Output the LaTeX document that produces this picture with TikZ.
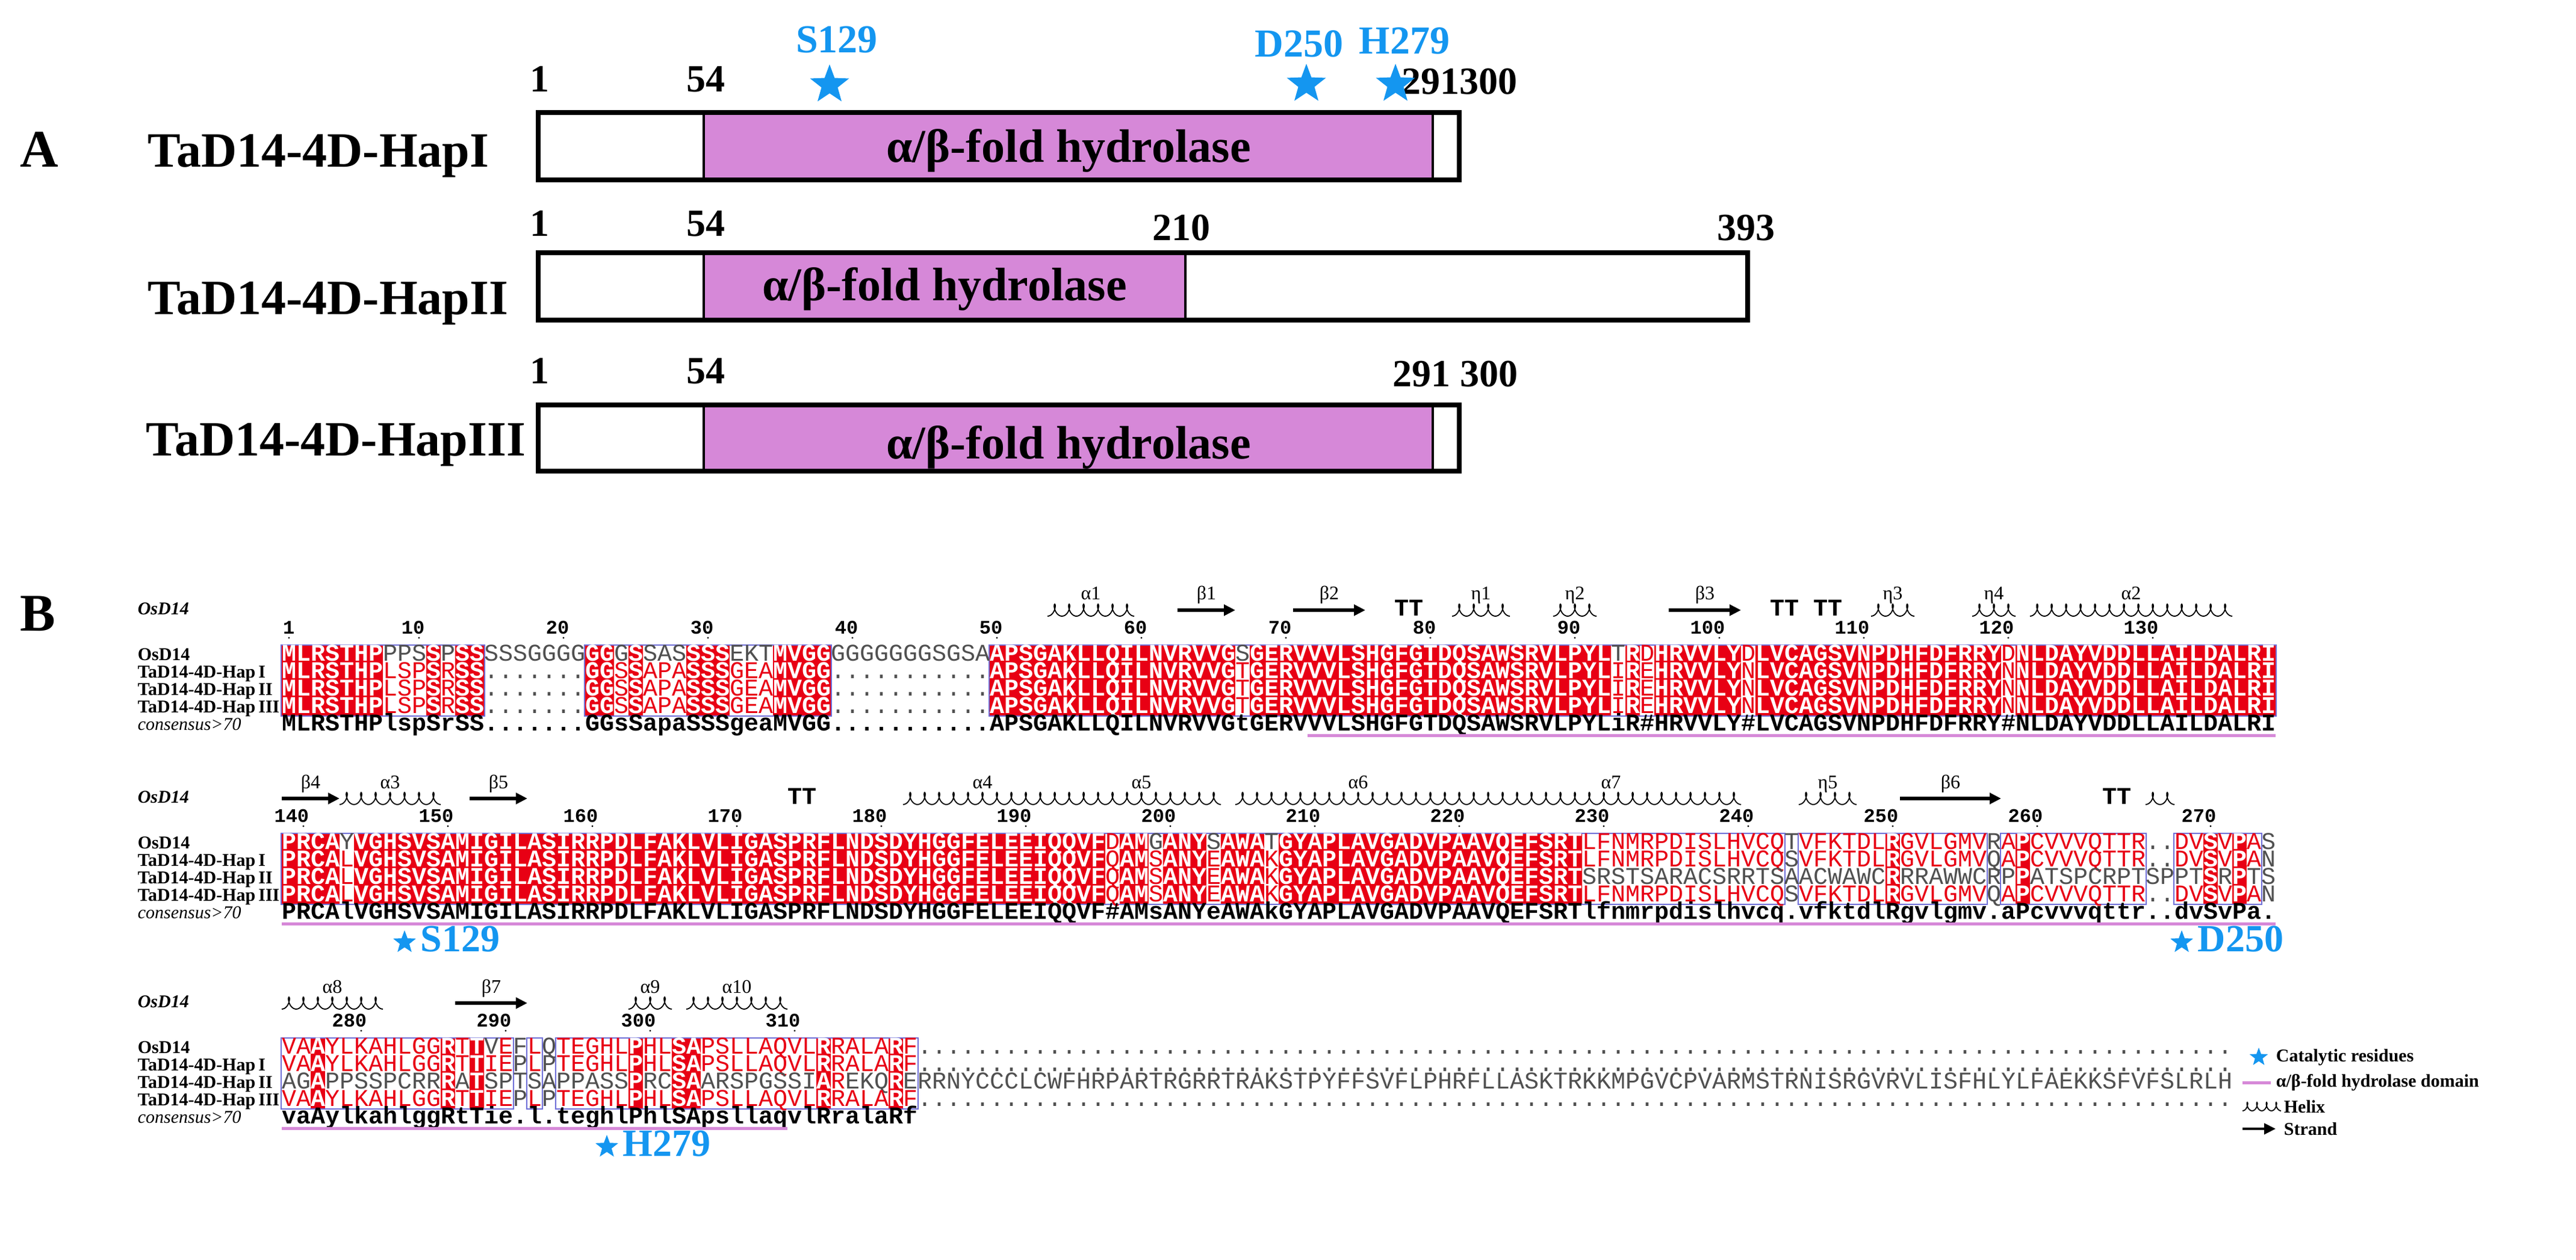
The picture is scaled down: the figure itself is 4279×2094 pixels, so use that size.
\documentclass[tikz,border=0pt]{standalone}
\usepackage{fontspec}
\setmainfont{Liberation Serif}
\setmonofont{Liberation Mono}
\usetikzlibrary{arrows.meta,shapes.geometric}
\definecolor{espred}{RGB}{232,0,20}
\definecolor{espframe}{RGB}{110,110,215}
\definecolor{seqgray}{RGB}{80,80,80}
\definecolor{consblack}{RGB}{0,0,0}
\definecolor{domainpink}{RGB}{214,136,216}
\definecolor{catblue}{RGB}{20,150,240}

\newcommand\rsch[3]{\makebox[6pt][c]{\textcolor{#1}{#2#3}}}

\ExplSyntaxOn
\int_new:N \l_rs_i_int
\int_new:N \l_rs_rs_int
\int_new:N \l_rs_fs_int
\int_new:N \l_rs_cls_int
\str_new:N \l_rs_c_str
\tl_new:N \l_rs_col_tl
\tl_new:N \l_rs_font_tl
\tl_new:N \l_rs_ch_tl
\tl_new:N \g_rs_row_tl

\cs_new_protected:Npn \rs_class:n #1
 {
  \int_set:Nn \l_rs_cls_int {0}
  \str_if_eq:nnF {#1} {.}
   {
    \tl_if_blank:nF {#1}
     {
      \int_set:Nn \l_rs_cls_int {1}
      \str_if_eq:nnF {#1} {!}
       {
        \str_if_eq:eeT { \str_uppercase:n {#1} } { #1 }
         { \int_set:Nn \l_rs_cls_int {2} }
       }
     }
   }
 }
\cs_generate_variant:Nn \rs_class:n {V}

\cs_new_protected:Npn \rs_row:nnn #1#2#3
 {
  \tl_gclear:N \g_rs_row_tl
  \int_zero:N \l_rs_i_int
  \str_map_inline:nn {#1}
   {
    \int_incr:N \l_rs_i_int
    \str_set:Nx \l_rs_c_str { \str_item:nn {#2} { \l_rs_i_int } }
    \str_if_eq:nnTF {##1} {!}
     { \tl_set:Nn \l_rs_ch_tl { \# } }
     { \tl_set:Nn \l_rs_ch_tl {##1} }
    \int_compare:nNnTF {#3} = {1}
     {
      \tl_set:Nn \l_rs_col_tl {consblack}
      \tl_set:Nn \l_rs_font_tl { \bfseries }
     }
     {
      \rs_class:V \l_rs_c_str
      \tl_set:Nn \l_rs_font_tl { }
      \int_case:nn { \l_rs_cls_int }
       {
        {0} { \tl_set:Nn \l_rs_col_tl {seqgray} }
        {1}
         {
          \tl_set:Nn \l_rs_col_tl {seqgray}
          \str_if_eq:VnTF \l_rs_c_str {!}
           { \tl_set:Nn \l_rs_col_tl {espred} }
           {
            \str_if_eq:eeT { \str_lowercase:n {##1} } { \l_rs_c_str }
             { \tl_set:Nn \l_rs_col_tl {espred} }
           }
         }
        {2}
         {
          \tl_set:Nn \l_rs_col_tl {white}
          \tl_set:Nn \l_rs_font_tl { \bfseries }
         }
       }
     }
    \tl_gput_right:Nx \g_rs_row_tl
     {
      \exp_not:N \rsch
       { \exp_not:V \l_rs_col_tl }
       { \exp_not:V \l_rs_font_tl }
       { \exp_not:V \l_rs_ch_tl }
     }
   }
 }
\cs_generate_variant:Nn \rs_row:nnn {eee}

\cs_new_protected:Npn \rs_fill:nnnn #1#2#3#4
 {
  \use:x
   {
    \exp_not:N \fill [espred]
     ( \fp_eval:n { 480 + ( #1 - 1 ) * 24 - 12.4 } , \fp_eval:n {#3} )
     rectangle
     ( \fp_eval:n { 480 + ( #2 - 1 ) * 24 + 12.4 } , \fp_eval:n {#4} ) ;
   }
 }
\cs_new_protected:Npn \rs_frame:nnnn #1#2#3#4
 {
  \use:x
   {
    \exp_not:N \draw [espframeline]
     ( \fp_eval:n { 480 + ( #1 - 1 ) * 24 - 13 } , \fp_eval:n {#3 - 1} )
     rectangle
     ( \fp_eval:n { 480 + ( #2 - 1 ) * 24 + 13 } , \fp_eval:n {#4 + 1} ) ;
   }
 }

\cs_new_protected:Npn \rs_boxes:nnn #1#2#3
 {
  \int_zero:N \l_rs_i_int
  \int_zero:N \l_rs_rs_int
  \int_zero:N \l_rs_fs_int
  \str_map_inline:nn { #1 . }
   {
    \int_incr:N \l_rs_i_int
    \rs_class:n {##1}
    \int_compare:nNnTF { \l_rs_cls_int } = { 2 }
     {
      \int_compare:nNnT { \l_rs_rs_int } = { 0 }
       { \int_set_eq:NN \l_rs_rs_int \l_rs_i_int }
     }
     {
      \int_compare:nNnF { \l_rs_rs_int } = { 0 }
       {
        \rs_fill:nnnn { \l_rs_rs_int } { \l_rs_i_int - 1 } {#2} {#3}
        \int_zero:N \l_rs_rs_int
       }
     }
    \int_compare:nNnTF { \l_rs_cls_int } > { 0 }
     {
      \int_compare:nNnT { \l_rs_fs_int } = { 0 }
       { \int_set_eq:NN \l_rs_fs_int \l_rs_i_int }
     }
     {
      \int_compare:nNnF { \l_rs_fs_int } = { 0 }
       {
        \rs_frame:nnnn { \l_rs_fs_int } { \l_rs_i_int - 1 } {#2} {#3}
        \int_zero:N \l_rs_fs_int
       }
     }
   }
 }
\cs_generate_variant:Nn \rs_boxes:nnn {eee}

\NewDocumentCommand \rsrow { m m m } { \rs_row:eee {#1} {#2} {#3} }
\NewDocumentCommand \rsboxes { m m m } { \rs_boxes:eee {#1} {#2} {#3} }
\cs_new:Npn \rsrowtl { \g_rs_row_tl }
\ExplSyntaxOff

\tikzset{
  panel/.style={font=\fontsize{22}{22}\selectfont\bfseries, inner sep=0pt, anchor=base},
  hapname/.style={font=\fontsize{20.5}{20.5}\selectfont\bfseries, inner sep=0pt, anchor=base west},
  domtext/.style={font=\fontsize{19.5}{19.5}\selectfont\bfseries, inner sep=0pt, anchor=base},
  posnum/.style={font=\fontsize{16}{16}\selectfont\bfseries, inner sep=0pt, anchor=base},
  catlab/.style={font=\fontsize{16.5}{16.5}\selectfont\bfseries, text=catblue, inner sep=0pt, anchor=base},
  catlabB/.style={font=\fontsize{16}{16}\selectfont\bfseries, text=catblue, inner sep=0pt, anchor=base west},
  catstar/.style={star, star points=5, star point ratio=2.4, fill=catblue, draw=none, inner sep=0pt, minimum size=#1},
  boxline/.style={line width=2pt},
  divline/.style={line width=1pt},
  rowtext/.style={anchor=base west, inner sep=0pt, text height=5.6pt, text depth=1.4pt, font=\ttfamily\fontsize{10}{10}\selectfont},
  sslabel/.style={anchor=base, inner sep=0pt, font=\fontsize{8}{8}\selectfont},
  ttlabel/.style={anchor=base, inner sep=0pt, font=\ttfamily\bfseries\fontsize{10}{10}\selectfont},
  numlabel/.style={anchor=base east, inner sep=0pt, text height=4.6pt, text depth=0pt, font=\ttfamily\bfseries\fontsize{8}{8}\selectfont},
  helixline/.style={line width=0.45pt},
  strandline/.style={line width=1.5pt, -{Triangle[length=4.75pt,width=4.5pt]}},
  seqname/.style={anchor=base west, inner sep=0pt, text height=5.2pt, text depth=1.4pt, font=\fontsize{7.5}{7.5}\selectfont\bfseries},
  ssname/.style={anchor=base west, inner sep=0pt, font=\fontsize{7.5}{7.5}\selectfont\bfseries\itshape},
  espframeline/.style={draw=espframe, line width=0.5pt},
  domline/.style={draw=domainpink, line width=1.25pt},
  legtext/.style={anchor=west, inner sep=0pt, font=\fontsize{7.5}{7.5}\selectfont\bfseries},
}

% helix glyph: first loop centre x, loops, y centre, period, amplitude
\newcommand\helixdraw[5]{%
  \draw[helixline] plot[domain=-3.14159:{6.28318*(#2-1)+3.14159}, samples={30*#2}]
    ({#1+#4/6.28318*\x-0.23*#4*sin(\x r)},{#3-#5*cos(\x r)});}
\newcommand\hel[4]{%
  \pgfmathsetmacro\hx{480+24*(#1-\bs)}%
  \pgfmathtruncatemacro\hn{#2-#1+1}%
  \helixdraw{\hx}{\hn}{\by-73}{24}{10}%
  \node[sslabel] (#4) at ({480+24*((#1+#2)/2-\bs)},{\by-90}) {#3};}
\newcommand\strandar[4]{%
  \draw[strandline] ({480+24*(#1-\bs)-12},{\by-73}) -- ({480+24*(#2-\bs)+12},{\by-73});
  \node[sslabel] (#4) at ({480+24*((#1+#2)/2-\bs)},{\by-90}) {#3};}
\newcommand\turnTT[2]{%
  \node[ttlabel] (#2) at ({480+24*(#1+0.5-\bs)},{\by-64}) {TT};}
\newcommand\resnum[3]{%
  \node[numlabel] (#3) at ({480+24*(#1-\bs)+10},{\by-34}) {#2};
  \fill ({480+24*(#1-\bs)},{\by-27}) circle (0.4pt);}
\newcommand\seqnames[2]{%
  \node[ssname] (#2s) at (228,{#1-66}) {OsD14};
  \node[seqname] (#2n1) at (228,{#1+10}) {OsD14};
  \node[seqname] (#2n2) at (228,{#1+39}) {TaD14-4D-Hap\,I};
  \node[seqname] (#2n3) at (228,{#1+68}) {TaD14-4D-Hap\,II};
  \node[seqname] (#2n4) at (228,{#1+97}) {TaD14-4D-Hap\,III};
  \node[seqname,font=\fontsize{7.5}{7.5}\selectfont\itshape] (#2n5) at (228,{#1+126}) {consensus>70};}
\newcommand\seqblock[7]{%
  \pgfmathsetmacro\yt{#1-14.5}\pgfmathsetmacro\yb{#1+101.5}%
  \rsboxes{#6}{\yt}{\yb}%
  \pgfmathsetmacro\ya{#1+11}\rsrow{#2}{#6}{0}\node[rowtext] (#7r1) at (468,\ya) {\rsrowtl};
  \pgfmathsetmacro\ya{#1+40}\rsrow{#3}{#6}{0}\node[rowtext] (#7r2) at (468,\ya) {\rsrowtl};
  \pgfmathsetmacro\ya{#1+69}\rsrow{#4}{#6}{0}\node[rowtext] (#7r3) at (468,\ya) {\rsrowtl};
  \pgfmathsetmacro\ya{#1+98}\rsrow{#5}{#6}{0}\node[rowtext] (#7r4) at (468,\ya) {\rsrowtl};
  \pgfmathsetmacro\ya{#1+127}\rsrow{#6}{#6}{1}\node[rowtext] (#7r5) at (468,\ya) {\rsrowtl};}

% sequences ('!' stands for the consensus sign #)
\def\aA{MLRSTHPPPSSPSSSSSGGGGGGGSSASSSSEKTMVGGGGGGGGGSGSAAPSGAKLLQILNVRVVGSGERVVVLSHGFGTDQSAWSRVLPYLTRDHRVVLYDLVCAGSVNPDHFDFRRYDNLDAYVDDLLAILDALRI}
\def\aB{MLRSTHPLSPSRSS.......GGSSAPASSSGEAMVGG...........APSGAKLLQILNVRVVGTGERVVVLSHGFGTDQSAWSRVLPYLIREHRVVLYNLVCAGSVNPDHFDFRRYNNLDAYVDDLLAILDALRI}
\def\aC{MLRSTHPlspSrSS.......GGsSapaSSSgeaMVGG...........APSGAKLLQILNVRVVGtGERVVVLSHGFGTDQSAWSRVLPYLiR!HRVVLY!LVCAGSVNPDHFDFRRY!NLDAYVDDLLAILDALRI}
\def\bA{PRCAYVGHSVSAMIGILASIRRPDLFAKLVLIGASPRFLNDSDYHGGFELEEIQQVFDAMGANYSAWATGYAPLAVGADVPAAVQEFSRTLFNMRPDISLHVCQTVFKTDLRGVLGMVRAPCVVVQTTR..DVSVPAS}
\def\bB{PRCALVGHSVSAMIGILASIRRPDLFAKLVLIGASPRFLNDSDYHGGFELEEIQQVFQAMSANYEAWAKGYAPLAVGADVPAAVQEFSRTLFNMRPDISLHVCQSVFKTDLRGVLGMVQAPCVVVQTTR..DVSVPAN}
\def\bD{PRCALVGHSVSAMIGILASIRRPDLFAKLVLIGASPRFLNDSDYHGGFELEEIQQVFQAMSANYEAWAKGYAPLAVGADVPAAVQEFSRTSRSTSARACSRRTSAACWAWCRRRAWWCRPPATSPCRPTSPPTSRPTS}
\def\bC{PRCAlVGHSVSAMIGILASIRRPDLFAKLVLIGASPRFLNDSDYHGGFELEEIQQVF!AMsANYeAWAkGYAPLAVGADVPAAVQEFSRTlfnmrpdislhvcq.vfktdlRgvlgmv.aPcvvvqttr..dvSvPa.}
\def\cA{VAAYLKAHLGGRTTVEFLQTEGHLPHLSAPSLLAQVLRRALARF...........................................................................................}
\def\cB{VAAYLKAHLGGRTTIEPLPTEGHLPHLSAPSLLAQVLRRALARF...........................................................................................}
\def\cD{AGAPPSSPCRRRATSPTSAPPASSPRCSAARSPGSSIAREKQRERRNYCCCLCWFHRPARTRGRRTRAKSTPYFFSVFLPHRFLLASKTRKKMPGVCPVARMSTRNISRGVRVLISFHLYLFAEKKSFVFSLRLH}
\def\cC{vaAylkahlggRtTie.l.teghlPhlSApsllaqvlRralaRf}

\begin{document}
\begin{tikzpicture}[x=0.25pt,y=-0.25pt]
\useasboundingbox (0,0) rectangle (4279,2094);
% ---------------- Panel A ----------------
\node[panel] (labA) at (65,278) {A};
\node[hapname] (hap1) at (245,278) {TaD14-4D-HapI};
\node[hapname] (hap2) at (245,523) {TaD14-4D-HapII};
\node[hapname] (hap3) at (242,758) {TaD14-4D-HapIII};
% box 1
\fill[domainpink] (1169,187) rectangle (2380,299);
\draw[boxline] (894,187) rectangle (2424,299);
\draw[divline] (1169,187) -- (1169,299) (2380,187) -- (2380,299);
\node[domtext] (dom1) at (1775,270) {α/β-fold hydrolase};
% box 2
\fill[domainpink] (1169,420) rectangle (1969,532);
\draw[boxline] (894,420) rectangle (2903,532);
\draw[divline] (1169,420) -- (1169,532) (1969,420) -- (1969,532);
\node[domtext] (dom2) at (1569,500) {α/β-fold hydrolase};
% box 3
\fill[domainpink] (1169,673) rectangle (2380,783);
\draw[boxline] (894,673) rectangle (2424,783);
\draw[divline] (1169,673) -- (1169,783) (2380,673) -- (2380,783);
\node[domtext] (dom3) at (1775,763) {α/β-fold hydrolase};
% positions
\node[posnum] (p11) at (896,153) {1};
\node[posnum] (p12) at (1172,153) {54};
\node[posnum,anchor=base west] (p13) at (2328,157) {291300};
\node[posnum] (p21) at (896,393) {1};
\node[posnum] (p22) at (1172,393) {54};
\node[posnum] (p23) at (1962,400) {210};
\node[posnum] (p24) at (2900,400) {393};
\node[posnum] (p31) at (896,638) {1};
\node[posnum] (p32) at (1172,638) {54};
\node[posnum,anchor=base west] (p33) at (2313,643) {291 300};
% catalytic residues
\node[catstar=17pt] (stS) at (1378,141) {};
\node[catstar=17pt] (stD) at (2170,140) {};
\node[catstar=17pt] (stH) at (2318,140) {};
\node[catlab] (lS) at (1390,88) {S129};
\node[catlab] (lD) at (2158,95) {D250};
\node[catlab] (lH) at (2333,90) {H279};
% ---------------- Panel B ----------------
\node[panel] (labB) at (63,1048) {B};
% block 1
\def\bs{1}\def\by{1087}
\seqnames{1087}{k1}
\seqblock{1087}{\aA}{\aB}{\aB}{\aB}{\aC}{b1}
\draw[domline] (2172,1222) -- (3780,1222);
\hel{54}{59}{α1}{a1}
\strandar{63}{66}{β1}{s1}
\strandar{71}{75}{β2}{s2}
\turnTT{78}{t1}
\hel{82}{85}{η1}{e1}
\hel{89}{91}{η2}{e2}
\strandar{97}{101}{β3}{s3}
\turnTT{104}{t2}
\turnTT{107}{t3}
\hel{111}{113}{η3}{e3}
\hel{118}{120}{η4}{e4}
\hel{122}{135}{α2}{a2}
\resnum{1}{1}{n1}
\foreach \k in {10,20,...,130} {\resnum{\k}{\k}{n\k}}
% block 2
\def\bs{139}\def\by{1400}
\seqnames{1400}{k2}
\seqblock{1400}{\bA}{\bB}{\bD}{\bB}{\bC}{b2}
\draw[domline] (468,1535) -- (3780,1535);
\strandar{139}{142}{β4}{s4}
\hel{143}{149}{α3}{a3}
\strandar{152}{155}{β5}{s5}
\turnTT{174}{t4}
\hel{182}{192}{α4}{a4}
\hel{193}{203}{α5}{a5}
\hel{205}{221}{α6}{a6}
\hel{222}{239}{α7}{a7}
\hel{244}{247}{η5}{e5}
\strandar{251}{257}{β6}{s6}
\turnTT{265}{t5}
\helixdraw{3576}{2}{1327}{24}{10}
\foreach \k in {140,150,...,260} {\resnum{\k}{\k}{n\k}}
\resnum{272}{270}{n270}
\node[catstar=10pt] (bstS) at (672,1566) {};
\node[catlabB] (blS) at (698,1581) {S129};
\node[catstar=10pt] (bstD) at (3624,1566) {};
\node[catlabB] (blD) at (3650,1581) {D250};
% block 3
\def\bs{277}\def\by{1740}
\seqnames{1740}{k3}
\seqblock{1740}{\cA}{\cB}{\cD}{\cB}{\cC}{b3}
\draw[domline] (468,1875) -- (1308,1875);
\hel{277}{283}{α8}{a8}
\strandar{289}{293}{β7}{s7}
\hel{301}{303}{α9}{a9}
\hel{305}{311}{α10}{a10}
\resnum{282}{280}{n280}
\resnum{292}{290}{n290}
\resnum{302}{300}{n300}
\resnum{312}{310}{n310}
\node[catstar=10pt] (bstH) at (1008,1906) {};
\node[catlabB] (blH) at (1034,1921) {H279};
% legend
\node[catstar=8pt] (gst) at (3752,1757) {};
\node[legtext] (g1) at (3780,1757) {Catalytic residues};
\coordinate (gp1) at (3725,1799);
\coordinate (gp2) at (3772,1799);
\draw[domline] (gp1) -- (gp2);
\node[legtext] (g2) at (3780,1799) {α/β-fold hydrolase domain};
\helixdraw{3733}{4}{1839}{16}{7}
\node[legtext] (g3) at (3793,1839) {Helix};
\coordinate (ga1) at (3725,1876);
\coordinate (ga2) at (3780,1876);
\draw[strandline,line width=1pt] (ga1) -- (ga2);
\node[legtext] (g4) at (3793,1876) {Strand};
\end{tikzpicture}
\end{document}
